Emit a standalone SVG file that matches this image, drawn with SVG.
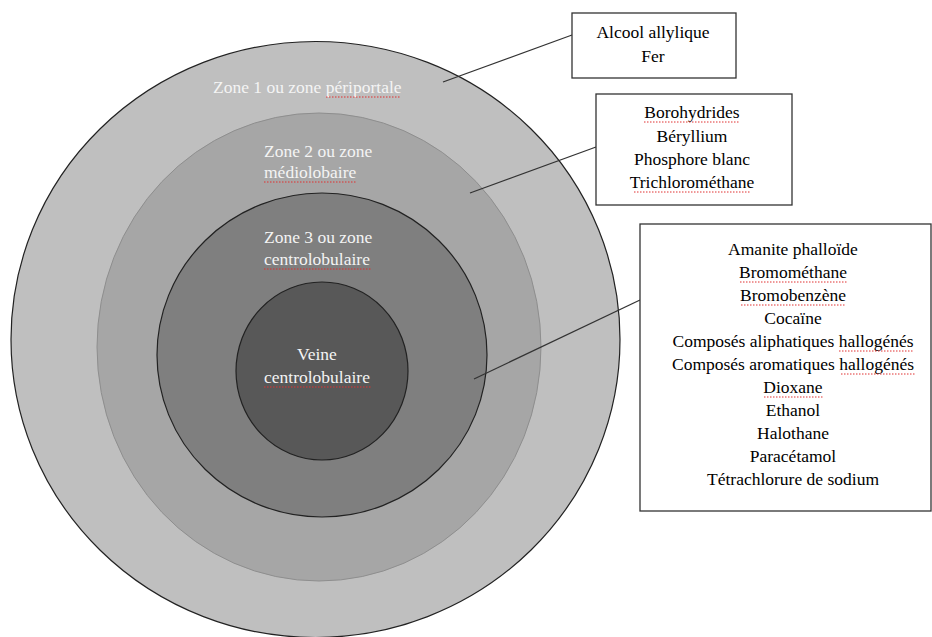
<svg xmlns="http://www.w3.org/2000/svg" width="932" height="637" viewBox="0 0 932 637">
<style>
.zl{font-family:"Liberation Serif","Times New Roman",serif;font-size:17.5px;fill:#f4f4f4}
.bt{font-family:"Liberation Serif","Times New Roman",serif;font-size:17.5px;fill:#000;text-anchor:middle}
.box{fill:#fff;stroke:#333;stroke-width:1.3}
.conn{stroke:#333;stroke-width:1.3;fill:none}
.sq{stroke:#e03030;stroke-width:1;fill:none;stroke-dasharray:1.5 1.5}
</style>
<rect width="932" height="637" fill="#fff"/>
<g id="zone1">
<ellipse cx="315.5" cy="339.5" rx="304.5" ry="298" fill="#bfbfbf" stroke="#222" stroke-width="1.2"/>
<text class="zl" x="213" y="93">Zone 1 ou zone périportale</text>
<path class="sq" d="M326 97 H401"/>
</g>
<g id="zone2">
<ellipse cx="319" cy="347" rx="222" ry="234" fill="#a6a6a6" stroke="#8e8e8e" stroke-width="1"/>
<text class="zl" x="264" y="157">Zone 2 ou zone</text>
<text class="zl" x="264" y="178">médiolobaire</text>
<path class="sq" d="M264 182 H357"/>
</g>
<g id="zone3">
<ellipse cx="322" cy="355" rx="165" ry="162" fill="#7f7f7f" stroke="#222" stroke-width="1.2"/>
<text class="zl" x="264" y="243">Zone 3 ou zone</text>
<text class="zl" x="264" y="265">centrolobulaire</text>
<path class="sq" d="M264 269 H372"/>
</g>
<g id="veine">
<ellipse cx="322" cy="371" rx="86" ry="89" fill="#585858" stroke="#222" stroke-width="1.2"/>
<text class="zl" x="297" y="360">Veine</text>
<text class="zl" x="264" y="383">centrolobulaire</text>
<path class="sq" d="M264 387 H372"/>
</g>
<g id="connectors">
<line class="conn" x1="443" y1="82" x2="572" y2="35"/>
<line class="conn" x1="470" y1="193" x2="596" y2="147"/>
<line class="conn" x1="474" y1="379" x2="640" y2="300"/>
</g>
<g id="box1">
<rect class="box" x="572" y="13" width="164" height="65"/>
<text class="bt" x="653" y="38">Alcool allylique</text>
<text class="bt" x="653" y="62">Fer</text>
</g>
<g id="box2">
<rect class="box" x="596" y="94" width="196" height="111"/>
<text class="bt" x="692" y="118">Borohydrides</text>
<text class="bt" x="692" y="141.5">Béryllium</text>
<text class="bt" x="692" y="165">Phosphore blanc</text>
<text class="bt" x="692" y="188">Trichlorométhane</text>
<path class="sq" d="M644 122 H739 M634 192 H750"/>
</g>
<g id="box3">
<rect class="box" x="640" y="224" width="291" height="287"/>
<text class="bt" x="793" y="255">Amanite phalloïde</text>
<text class="bt" x="793" y="278">Bromométhane</text>
<text class="bt" x="793" y="301">Bromobenzène</text>
<text class="bt" x="793" y="324">Cocaïne</text>
<text class="bt" x="793" y="347">Composés aliphatiques hallogénés</text>
<text class="bt" x="793" y="370">Composés aromatiques hallogénés</text>
<text class="bt" x="793" y="393">Dioxane</text>
<text class="bt" x="793" y="416">Ethanol</text>
<text class="bt" x="793" y="439">Halothane</text>
<text class="bt" x="793" y="462">Paracétamol</text>
<text class="bt" x="793" y="485">Tétrachlorure de sodium</text>
<path class="sq" d="M740 282 H847 M741 305 H846 M839 351 H913 M841 374 H915 M764 397 H823"/>
</g>
</svg>
